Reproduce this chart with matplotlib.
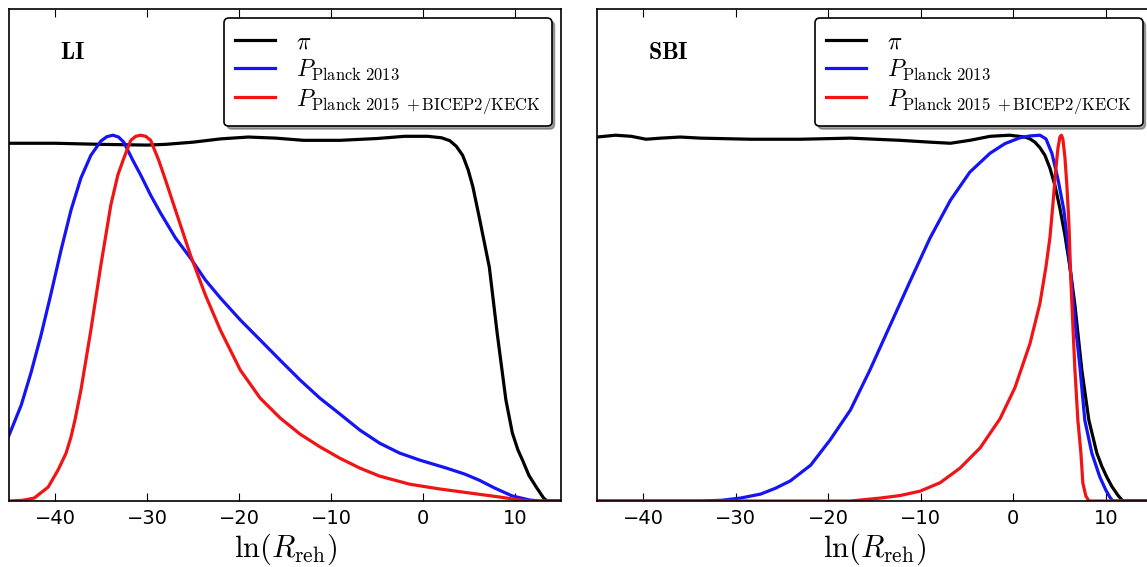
import matplotlib.pyplot as plt
import numpy as np

plt.rcParams['mathtext.fontset'] = 'cm'

# LI: ln(R_reh) samples and normalised densities
li_prior_x = [-45, -40, -35, -30, -28, -25, -22, -19, -16, -13, -9, -5, -2, 0.5, 2.0,
              2.9, 3.6, 4.3, 4.9, 5.4, 6.1, 7.2, 8.05, 9.0, 9.7, 10.3, 10.8, 11.5,
              12.3, 13.1, 13.5, 15]
li_prior_y = [0.978, 0.978, 0.975, 0.973, 0.975, 0.981, 0.990, 0.995, 0.992, 0.986,
              0.986, 0.991, 0.997, 0.997, 0.993, 0.985, 0.970, 0.945, 0.905, 0.860,
              0.776, 0.639, 0.459, 0.276, 0.186, 0.140, 0.112, 0.070, 0.038, 0.008,
              0, 0]

li_p13_x = [-45, -43.68, -42.60, -41.52, -40.43, -39.35, -38.27, -37.19, -36.11,
            -35.02, -34.37, -33.72, -33.1, -32.53, -31.56, -30.69, -29.61, -28.53,
            -26.91, -25.28, -23.66, -22.03, -19.87, -17.70, -15.54, -13.38, -11.21,
            -9.05, -6.88, -4.72, -2.55, -0.39, 2.53, 4.48, 6.10, 7.73, 9.67, 11.51,
            12.60, 15]
li_p13_y = [0.180, 0.262, 0.352, 0.454, 0.568, 0.686, 0.795, 0.883, 0.945, 0.984,
            0.996, 1.0, 0.995, 0.981, 0.932, 0.891, 0.836, 0.787, 0.719, 0.664, 0.604,
            0.555, 0.495, 0.440, 0.385, 0.331, 0.281, 0.238, 0.194, 0.158, 0.131,
            0.112, 0.090, 0.074, 0.057, 0.036, 0.014, 0.003, 0, 0]

li_p15_x = [-45, -43.5, -42.27, -40.75, -39.67, -38.80, -38.27, -37.84, -37.19,
            -36.11, -35.02, -33.94, -33.18, -32.53, -31.77, -31.23, -30.69, -30.15,
            -29.61, -28.74, -27.99, -26.91, -25.28, -23.66, -22.03, -19.87, -17.70,
            -15.54, -13.38, -11.21, -9.05, -6.88, -4.72, -1.47, 1.77, 5.02, 8.27,
            10.43, 11.51, 15]
li_p15_y = [0, 0.002, 0.008, 0.038, 0.085, 0.131, 0.175, 0.221, 0.303, 0.467, 0.645,
            0.809, 0.891, 0.937, 0.986, 0.997, 1.0, 0.997, 0.986, 0.932, 0.877, 0.795,
            0.672, 0.563, 0.467, 0.358, 0.281, 0.227, 0.183, 0.148, 0.117, 0.090,
            0.068, 0.046, 0.033, 0.022, 0.011, 0.003, 0, 0]

# SBI
sbi_prior_x = [-45, -43.0, -41.3, -39.7, -38.1, -36.0, -33.8, -28.4, -23.0, -17.6,
               -12.2, -9.0, -6.8, -4.7, -2.5, -0.4, 1.26, 1.80, 2.34, 2.88, 3.42, 3.96,
               4.50, 5.04, 5.58, 6.12, 6.66, 7.41, 8.17, 9.03, 9.57, 10.1, 10.65, 11.3,
               11.83, 15]
sbi_prior_y = [0.995, 1.0, 0.997, 0.989, 0.992, 0.995, 0.992, 0.989, 0.989, 0.992,
               0.986, 0.981, 0.978, 0.986, 0.997, 1.0, 0.995, 0.990, 0.981, 0.966,
               0.945, 0.910, 0.863, 0.800, 0.727, 0.640, 0.536, 0.358, 0.221, 0.131,
               0.095, 0.066, 0.040, 0.016, 0, 0]

sbi_p13_x = [-45, -33.8, -31.5, -29.5, -27.3, -25.7, -24.1, -21.9, -19.8, -17.6,
             -15.5, -13.3, -11.1, -9.0, -6.8, -4.7, -2.5, -0.9, 0.72, 1.80, 2.88,
             3.53, 4.18, 4.83, 5.47, 5.90, 6.33, 6.76, 7.19, 7.73, 8.49, 9.35, 10.0,
             10.43, 10.75, 15]
sbi_p13_y = [0, 0, 0.002, 0.008, 0.019, 0.035, 0.055, 0.098, 0.167, 0.249, 0.358,
             0.481, 0.604, 0.719, 0.822, 0.899, 0.951, 0.977, 0.993, 0.998, 1.0, 0.990,
             0.950, 0.880, 0.795, 0.700, 0.590, 0.470, 0.370, 0.221, 0.131, 0.066,
             0.030, 0.011, 0, 0]

sbi_p15_x = [-45, -17.6, -14.38, -12.22, -10.07, -7.91, -5.75, -3.59, -1.43, 0.18,
             1.80, 2.88, 3.53, 3.96, 4.28, 4.61, 4.83, 5.04, 5.2, 5.36, 5.58, 5.80,
             6.01, 6.23, 6.44, 6.66, 6.98, 7.31, 7.52, 7.84, 8.17, 15]
sbi_p15_y = [0, 0, 0.008, 0.015, 0.027, 0.050, 0.090, 0.145, 0.225, 0.310, 0.430,
             0.540, 0.640, 0.720, 0.810, 0.910, 0.965, 0.995, 1.0, 0.990, 0.940, 0.860,
             0.760, 0.600, 0.480, 0.360, 0.221, 0.131, 0.049, 0.014, 0, 0]

xticks = [-40, -30, -20, -10, 0, 10]
labels = [r'$\pi$', r'$P_{\rm Planck\ 2013}$', r'$P_{\rm Planck\ 2015\ +BICEP2/KECK}$']

panels = [
    ('LI', [0.0079, 0.1164, 0.4813, 0.8677],
     (li_prior_x, li_prior_y), (li_p13_x, li_p13_y), (li_p15_x, li_p15_y)),
    ('SBI', [0.5205, 0.1164, 0.4839, 0.8677],
     (sbi_prior_x, sbi_prior_y), (sbi_p13_x, sbi_p13_y), (sbi_p15_x, sbi_p15_y)),
]

fig = plt.figure(figsize=(11.47, 5.67), dpi=100)

for name, rect, prior, p13, p15 in panels:
    ax = fig.add_axes(rect)
    ax.plot(*prior, color='k', lw=2.3, label=labels[0], solid_joinstyle='round')
    ax.plot(*p13, color='#1414f5', lw=2.3, label=labels[1], solid_joinstyle='round')
    ax.plot(*p15, color='#f01414', lw=2.3, label=labels[2], solid_joinstyle='round')
    ax.set_xlim(-45, 15)
    ax.set_ylim(0, 1.345)
    ax.set_xticks(xticks)
    ax.set_xticklabels([str(t).replace('-', '\u2212') for t in xticks])
    ax.set_yticks([])
    ax.tick_params(axis='x', direction='in', top=True, length=6, width=0.8,
                   labelsize=14, pad=6)
    for s in ax.spines.values():
        s.set_linewidth(1.2)
    ax.set_xlabel(r'$\ln(R_{\rm reh})$', fontsize=22, labelpad=2)
    ax.text(0.092, 0.912, r'$\mathbf{%s}$' % name, transform=ax.transAxes,
            fontsize=17, va='center', ha='left')
    leg = ax.legend(loc='upper right', fontsize=17, fancybox=True, shadow=True,
                    framealpha=1, borderaxespad=0.4, handlelength=1.7,
                    handletextpad=0.9, labelspacing=0.18, borderpad=0.45)
    leg.get_frame().set_edgecolor('k')
    leg.get_frame().set_linewidth(1.2)

fig.savefig('out.png', dpi=100)
